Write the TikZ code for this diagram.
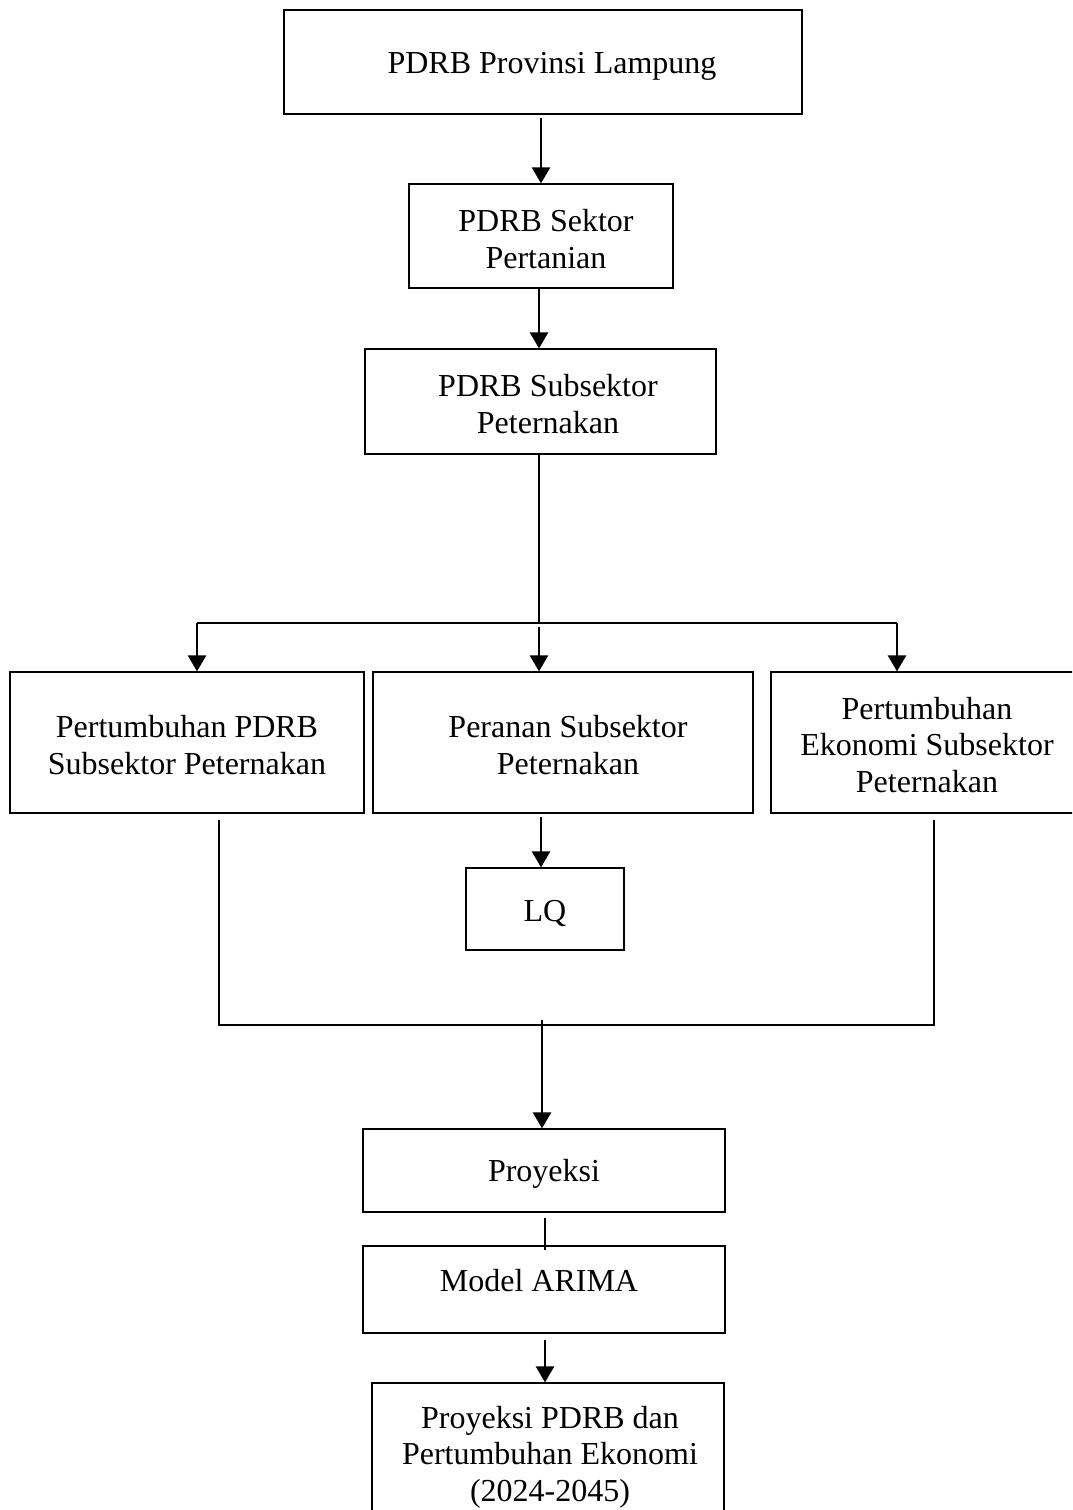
\documentclass[tikz,border=0pt]{standalone}
\usepackage{fontspec}
\setmainfont{Liberation Serif}
\usetikzlibrary{arrows.meta}
\begin{document}
\begin{tikzpicture}[x=0.5pt,y=-0.5pt,
  box/.style={draw,line width=0.6pt,inner sep=0pt,align=center,font=\fontsize{16}{18.3}\selectfont},
  txt/.style={inner sep=0pt,align=center,font=\fontsize{16}{18.3}\selectfont},
  conn/.style={line width=1.2pt},
  arr/.style={line width=1.2pt,-{Triangle[length=8pt,width=9pt]}},
  thin/.style={line width=0.6pt}]
\useasboundingbox (0,0) rectangle (1072,1510);
\clip (0,0) rectangle (1072,1510);
% boxes
\node[draw,thin,minimum width=259pt,minimum height=52pt] (b1) at (543,62) {};
\node[txt] (b1t) at (552,66) {PDRB Provinsi Lampung};
\node[draw,thin,minimum width=132pt,minimum height=52pt] (b2) at (541,236) {};
\node[txt] (b2t) at (546,239) {PDRB Sektor\\Pertanian};
\node[draw,thin,minimum width=175.5pt,minimum height=52.5pt] (b3) at (540.5,401.5) {};
\node[txt] (b3t) at (548,404) {PDRB Subsektor\\Peternakan};
\node[draw,thin,minimum width=177pt,minimum height=70.5pt] (b4) at (187,742.5) {};
\node[txt] (b4t) at (187,745) {Pertumbuhan PDRB\\Subsektor Peternakan};
\node[draw,thin,minimum width=190pt,minimum height=70.5pt] (b5) at (563,742.5) {};
\node[txt] (b5t) at (568,745) {Peranan Subsektor\\Peternakan};
\node[draw,thin,minimum width=159.5pt,minimum height=70.5pt] (b6) at (930.5,742.5) {};
\node[txt] (b6t) at (927,745) {Pertumbuhan\\Ekonomi Subsektor\\Peternakan};
\node[box,minimum width=79pt,minimum height=41pt] (lq) at (545,909) {};
\node[txt] (lqt) at (545,913) {LQ};
\node[draw,thin,minimum width=181pt,minimum height=41.5pt] (pr) at (544,1170.5) {};
\node[txt] (prt) at (544,1174) {Proyeksi};
\node[draw,thin,minimum width=181pt,minimum height=43.5pt] (ar) at (544,1289.5) {};
\node[txt] (art) at (539,1281) {Model ARIMA};
\node[draw,thin,minimum width=176pt,minimum height=80pt] (fin) at (548,1463) {};
\node[txt] (fint) at (550,1457) {Proyeksi PDRB dan\\Pertumbuhan Ekonomi\\(2024-2045)};
% coordinates
\coordinate (split) at (539,623);
\coordinate (sl) at (197,623);
\coordinate (sm) at (539,627);
\coordinate (sr) at (897,623);
\coordinate (jl) at (219,1025);
\coordinate (jr) at (934,1025);
\coordinate (jm) at (542,1020);
\coordinate (pa) at (545,1218);
\coordinate (pb) at (545,1250);
\coordinate (a5) at (541,817);
\coordinate (af) at (545,1340);
% connectors
\draw[arr] (b1.south -| b2.north) ++(0,3) -- (b2.north);
\draw[arr] (b2.south -| 539,0) -- (b3.north -| 539,0);
\draw[thin] (b3.south -| split) -- (split);
\draw[arr] (sl) -- (sl |- b4.north);
\draw[arr] (sm) -- (sm |- b5.north);
\draw[arr] (sr) -- (sr |- b6.north);
\draw[conn] (sl) -- (sr);
\draw[arr] (a5) -- (a5 |- lq.north);
\draw[thin] (219,820) -- (jl) -- (jr) -- (934,820);
\draw[arr] (jm) -- (jm |- pr.north);
\draw[thin] (pa) -- (pb);
\draw[arr] (af) -- (af |- fin.north);
\end{tikzpicture}
\end{document}
